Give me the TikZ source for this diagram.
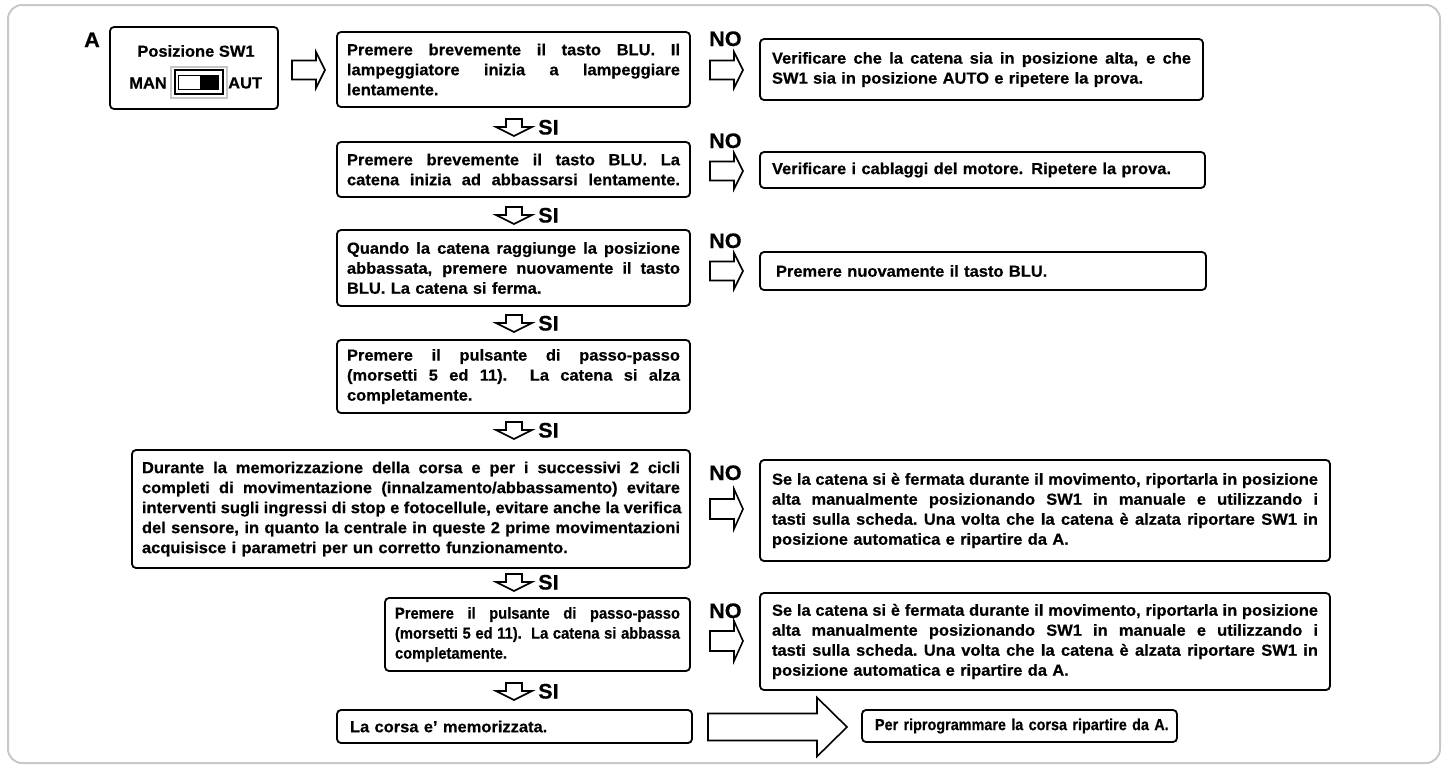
\documentclass[tikz,border=0pt]{standalone}
\usepackage{fontspec}
\setmainfont{Liberation Sans}
\newfontfamily\fA{Liberation Sans Bold}[FakeStretch=1.03, FakeBold=0.5]
\newfontfamily\fB{Liberation Sans Bold}[FakeStretch=0.92, FakeBold=0.5]
\newfontfamily\fC{Liberation Sans Bold}[FakeStretch=0.9, FakeBold=0.5]
\newcommand\jl[1]{\hbox to\hsize{\spaceskip=\fontdimen2\font plus 1fil\xspaceskip=\spaceskip\relax #1}}
\newcommand\nl[1]{\hbox{#1}}
\newcommand\lines[1]{\vbox{#1}}
\definecolor{framegray}{RGB}{200,200,200}
\begin{document}
\begin{tikzpicture}[x=1pt,y=-1pt,
  box/.style={draw, line width=1.8pt, rounded corners=4pt, anchor=north west, outer sep=0pt,
    inner xsep=10pt, inner ysep=0pt, font=\fA\fontsize{16}{20}\selectfont},
  txt/.style={font=\fA\fontsize{16}{18}\selectfont, inner sep=0pt},
  lbl/.style={font=\fA\fontsize{21}{21}\selectfont, anchor=base west, inner sep=0pt},
  rarr/.pic={\draw[line width=1.6pt] (0,-9.5) -- (24,-9.5) -- (24,-18) -- (33,0) -- (24,18) -- (24,9.5) -- (0,9.5) -- cycle;},
  rarrb/.pic={\draw[line width=1.6pt] (0,-10) -- (24,-10) -- (24,-20) -- (33,0) -- (24,20) -- (24,10) -- (0,10) -- cycle;},
  darr/.pic={\draw[line width=1.6pt] (-8,0) -- (8,0) -- (8,8) -- (18,8) -- (0,17) -- (-18,8) -- (-8,8) -- cycle;},
  bigarr/.pic={\draw[line width=1.6pt] (0,-13.5) -- (109,-13.5) -- (109,-29.5) -- (139,0) -- (109,29.5) -- (109,13.5) -- (0,13.5) -- cycle;}
]
\useasboundingbox (0,0) rectangle (1448,769);
\draw[framegray, line width=2pt, rounded corners=14pt] (8,5) rectangle (1440,763);

% switch box
\node[lbl] (A) at (84,47) {A};
\node[box, minimum width=168pt, minimum height=82pt] (sw) at (110,27) {};
\node[txt] (swt) at (196,51) {Posizione SW1};
\node[txt, anchor=east] (man) at (167,83) {MAN};
\node[txt, anchor=west] (aut) at (228,83) {AUT};
\draw[gray!45, line width=1.2pt] (171,67) rectangle (227,98);
\draw[line width=1.6pt, fill=white] (175,70) rectangle (223,94);
\draw[line width=0.8pt] (178,75) rectangle (218,89);
\fill (200,75) rectangle (218,89);
\pic at (292,70) {rarr};

% left column
\node[box, text width=333pt, minimum height=75pt] (b1) at (337,32)
  {\lines{\jl{Premere brevemente il tasto BLU. Il}\jl{lampeggiatore inizia a lampeggiare}\nl{lentamente.}}};
\node[box, text width=333pt, minimum height=55pt] (b2) at (337,142)
  {\lines{\jl{Premere brevemente il tasto BLU. La}\jl{catena inizia ad abbassarsi lentamente.}}};
\node[box, text width=333pt, minimum height=76pt] (b3) at (337,230)
  {\lines{\jl{Quando la catena raggiunge la posizione}\jl{abbassata, premere nuovamente il tasto}\nl{BLU. La catena si ferma.}}};
\node[box, text width=333pt, minimum height=73pt] (b4) at (337,340)
  {\lines{\jl{Premere il pulsante di passo-passo}\jl{(morsetti 5 ed 11).\ \ La catena si alza}\nl{completamente.}}};
\node[box, text width=538pt, minimum height=118pt] (b5) at (132,450)
  {\lines{\jl{Durante la memorizzazione della corsa e per i successivi 2 cicli}\jl{completi di movimentazione (innalzamento/abbassamento) evitare}\jl{interventi sugli ingressi di stop e fotocellule, evitare anche la verifica}\jl{del sensore, in quanto la centrale in queste 2 prime movimentazioni}\nl{acquisisce i parametri per un corretto funzionamento.}}};
\node[box, text width=285pt, minimum height=73pt, font=\fB\fontsize{16}{20}\selectfont] (b6) at (385,598)
  {\lines{\jl{Premere il pulsante di passo-passo}\jl{(morsetti 5 ed 11).\ \ La catena si abbassa}\nl{completamente.}}};
\node[box, text width=329pt, inner xsep=13pt, minimum height=33pt] (b7) at (337,710)
  {\lines{\nl{La corsa e’ memorizzata.}}};

% SI arrows
\foreach \t in {119,207,315,422,574,683}{
  \pic at (514,\t) {darr};
  \node[lbl] at (538,\t+15.5) {SI};
}

% right column
\node[box, text width=419pt, inner xsep=12pt, minimum height=61pt] (r1) at (760,39)
  {\lines{\jl{Verificare che la catena sia in posizione alta, e che}\nl{SW1 sia in posizione AUTO e ripetere la prova.}}};
\node[box, text width=421pt, inner xsep=12pt, minimum height=36pt] (r2) at (760,152)
  {\lines{\nl{Verificare i cablaggi del motore. Ripetere la prova.}}};
\node[box, text width=414pt, inner xsep=16pt, minimum height=38pt] (r3) at (760,252)
  {\lines{\nl{Premere nuovamente il tasto BLU.}}};
\node[box, text width=546pt, inner xsep=12pt, minimum height=101pt] (r5) at (760,460)
  {\lines{\jl{Se la catena si è fermata durante il movimento, riportarla in posizione}\jl{alta manualmente posizionando SW1 in manuale e utilizzando i}\jl{tasti sulla scheda. Una volta che la catena è alzata riportare SW1 in}\nl{posizione automatica e ripartire da A.}}};
\node[box, text width=546pt, inner xsep=12pt, minimum height=97pt] (r6) at (760,593)
  {\lines{\jl{Se la catena si è fermata durante il movimento, riportarla in posizione}\jl{alta manualmente posizionando SW1 in manuale e utilizzando i}\jl{tasti sulla scheda. Una volta che la catena è alzata riportare SW1 in}\nl{posizione automatica e ripartire da A.}}};
\node[box, text width=289pt, inner xsep=13pt, minimum height=32pt, font=\fC\fontsize{16}{20}\selectfont] (r7) at (862,710)
  {\lines{\nl{Per riprogrammare la corsa ripartire da A.}}};

% NO arrows
\node[lbl] (no1) at (709,46) {NO};
\pic at (710,70) {rarr};
\node[lbl] (no2) at (709,148) {NO};
\pic at (710,171) {rarr};
\node[lbl] (no3) at (709,248) {NO};
\pic at (710,271) {rarr};
\node[lbl] (no4) at (709,480) {NO};
\pic at (710,509) {rarrb};
\node[lbl] (no5) at (709,618) {NO};
\pic at (710,641) {rarrb};

% big arrow
\pic at (708,727) {bigarr};
\end{tikzpicture}
\end{document}
